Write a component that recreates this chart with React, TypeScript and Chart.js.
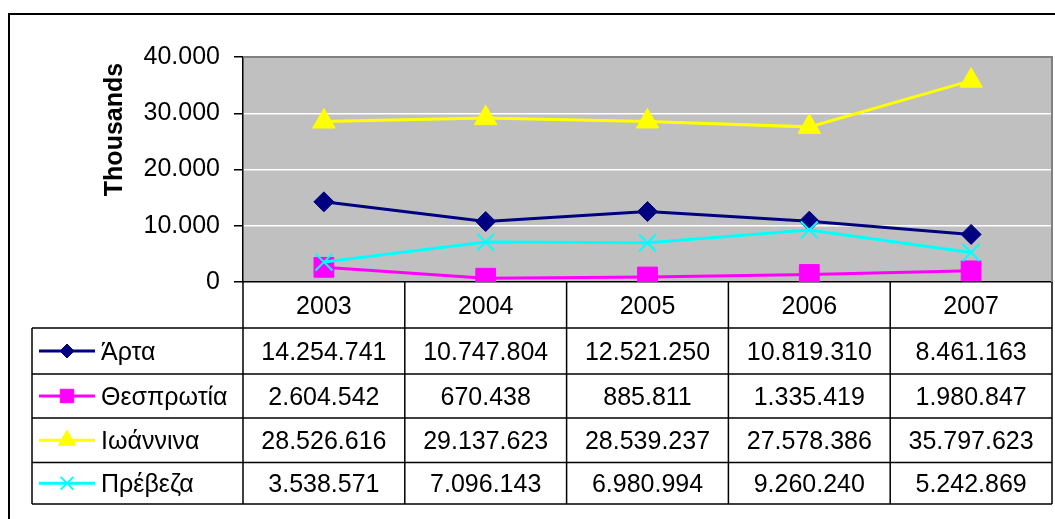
import React, { useEffect, useRef } from 'react';
import { Chart, registerables } from 'chart.js';
import { drawPoint } from 'chart.js/helpers';

Chart.register(...registerables);

// ---- data ----
const years = ['2003', '2004', '2005', '2006', '2007'];
const seriesNames = ['Άρτα', 'Θεσπρωτία', 'Ιωάννινα', 'Πρέβεζα'];
const arta = [14254741, 10747804, 12521250, 10819310, 8461163];
const thesprotia = [2604542, 670438, 885811, 1335419, 1980847];
const ioannina = [28526616, 29137623, 28539237, 27578386, 35797623];
const preveza = [3538571, 7096143, 6980994, 9260240, 5242869];
const seriesValues = [arta, thesprotia, ioannina, preveza];
const yMin = 0;
const yMax = 40000000;
const yStep = 10000000;
const yTitle = 'Thousands';

// ---- styles ----
const FONT = '"Liberation Sans", Arial, Helvetica, sans-serif';
const seriesStyles = [
  { color: '#000080', pointStyle: 'rectRot', radius: 10, legendRadius: 7, pbw: 1 },
  { color: '#FF00FF', pointStyle: 'rect', radius: 14, legendRadius: 9.5, pbw: 1 },
  { color: '#FFFF00', pointStyle: 'triangle', radius: 13, legendRadius: 10, pbw: 1 },
  { color: '#00FFFF', pointStyle: 'crossRot', radius: 12, legendRadius: 9, pbw: 2 },
];

const fmt = (n: number) => String(Math.round(n)).replace(/\B(?=(\d{3})+(?!\d))/g, '.');

const excelPlugin = {
  id: 'excelLook',
  beforeDraw(chart: any) {
    const { ctx, chartArea: a } = chart;
    ctx.save();
    ctx.fillStyle = '#ffffff';
    ctx.fillRect(0, 0, chart.width, chart.height);
    ctx.fillStyle = '#C0C0C0';
    ctx.fillRect(a.left, a.top, a.right - a.left, a.bottom - a.top);
    ctx.restore();
  },
  beforeDatasetsDraw(chart: any) {
    const { ctx, chartArea: a } = chart;
    ctx.save();
    ctx.strokeStyle = '#808080';
    ctx.lineWidth = 2;
    ctx.beginPath();
    ctx.moveTo(a.left, a.top);
    ctx.lineTo(a.right, a.top);
    ctx.lineTo(a.right, a.bottom);
    ctx.stroke();
    ctx.restore();
  },
  afterDraw(chart: any) {
    const { ctx, chartArea: a } = chart;
    const xs = chart.scales.x;
    ctx.save();
    // outer frame
    ctx.strokeStyle = '#000';
    ctx.lineWidth = 2;
    ctx.beginPath();
    ctx.moveTo(9, chart.height);
    ctx.lineTo(9, 14);
    ctx.lineTo(chart.width, 14);
    ctx.stroke();

    // axis title
    ctx.save();
    ctx.translate(115, 129.5);
    ctx.rotate(-Math.PI / 2);
    ctx.fillStyle = '#000';
    ctx.font = `bold 25px ${FONT}`;
    ctx.textAlign = 'center';
    ctx.textBaseline = 'middle';
    ctx.fillText(yTitle, 0, 0);
    ctx.restore();

    // data table
    const rowOff = [0, 46, 92, 136, 180.5, 222];
    const rows = rowOff.map((o) => a.bottom + o);
    const legLeft = 32;
    const colEdges: number[] = [a.left];
    for (let i = 0; i < years.length - 1; i++) {
      colEdges.push((xs.getPixelForTick(i) + xs.getPixelForTick(i + 1)) / 2);
    }
    colEdges.push(a.right);

    ctx.strokeStyle = '#000';
    ctx.lineWidth = 1.5;
    ctx.beginPath();
    for (let r = 1; r < rows.length; r++) {
      ctx.moveTo(legLeft, rows[r]);
      ctx.lineTo(a.right, rows[r]);
    }
    colEdges.forEach((x) => {
      ctx.moveTo(x, rows[0]);
      ctx.lineTo(x, rows[rows.length - 1]);
    });
    ctx.moveTo(legLeft, rows[1]);
    ctx.lineTo(legLeft, rows[rows.length - 1]);
    ctx.stroke();

    ctx.fillStyle = '#000';
    ctx.font = `25px ${FONT}`;
    ctx.textBaseline = 'alphabetic';
    const capOff = 9;
    ctx.textAlign = 'center';
    years.forEach((y, i) => {
      const cx = xs.getPixelForTick(i);
      ctx.fillText(y, cx, (rows[0] + rows[1]) / 2 + capOff);
    });
    seriesNames.forEach((name, s) => {
      const cy = (rows[s + 1] + rows[s + 2]) / 2;
      const st = seriesStyles[s];
      ctx.strokeStyle = st.color;
      ctx.lineWidth = 3;
      ctx.beginPath();
      ctx.moveTo(39, cy);
      ctx.lineTo(95, cy);
      ctx.stroke();
      ctx.fillStyle = st.color;
      ctx.strokeStyle = st.color;
      ctx.lineWidth = st.pbw;
      drawPoint(ctx, { pointStyle: st.pointStyle, radius: st.legendRadius, rotation: 0, borderWidth: st.pbw } as any, 67, cy);
      ctx.fillStyle = '#000';
      ctx.textAlign = 'left';
      ctx.fillText(name, 101, cy + capOff);
      ctx.textAlign = 'center';
      seriesValues[s].forEach((v, i) => {
        ctx.fillText(fmt(v), xs.getPixelForTick(i), cy + capOff);
      });
    });
    ctx.restore();
  },
};

export default function App() {
  const canvasRef = useRef<HTMLCanvasElement | null>(null);

  useEffect(() => {
    const canvas = canvasRef.current;
    if (!canvas) return;
    const chart = new Chart(canvas, {
      type: 'line',
      data: {
        labels: years,
        datasets: seriesNames.map((name, s) => ({
          label: name,
          data: seriesValues[s],
          borderColor: seriesStyles[s].color,
          backgroundColor: seriesStyles[s].color,
          pointBackgroundColor: seriesStyles[s].color,
          pointBorderColor: seriesStyles[s].color,
          pointStyle: seriesStyles[s].pointStyle as any,
          pointRadius: seriesStyles[s].radius,
          pointHoverRadius: seriesStyles[s].radius,
          pointBorderWidth: seriesStyles[s].pbw,
          borderWidth: 3,
          tension: 0,
          fill: false,
          order: seriesNames.length - s,
        })),
      },
      options: {
        animation: false,
        responsive: false,
        maintainAspectRatio: false,
        devicePixelRatio: 1,
        events: [],
        layout: { autoPadding: false, padding: { left: 0, top: 57, right: 3, bottom: 237 } },
        plugins: {
          legend: { display: false },
          tooltip: { enabled: false },
          title: { display: false },
        },
        scales: {
          x: {
            type: 'category',
            offset: true,
            grid: { display: false },
            ticks: { display: false },
            border: { display: true, color: '#000', width: 1.5 },
            afterFit: (s: any) => {
              s.height = 0;
              s.paddingLeft = 0;
              s.paddingRight = 0;
              s.paddingTop = 0;
              s.paddingBottom = 0;
            },
          },
          y: {
            min: yMin,
            max: yMax,
            grid: {
              color: (c: any) =>
                c.tick && (c.tick.value === yMin || c.tick.value === yMax) ? 'rgba(0,0,0,0)' : '#ffffff',
              lineWidth: 1.5,
              tickColor: '#000',
              tickLength: 9,
              tickWidth: 1.5,
            },
            border: { display: true, color: '#000', width: 1.5 },
            ticks: {
              stepSize: yStep,
              autoSkip: false,
              padding: 14,
              color: '#000',
              font: { family: FONT, size: 25 },
              callback: (v: any) => fmt(Number(v) / 1000),
            },
            afterFit: (s: any) => {
              s.width = 243;
              s.paddingLeft = 0;
              s.paddingRight = 0;
            },
          },
        },
      },
      plugins: [excelPlugin],
    });
    return () => chart.destroy();
  }, []);

  return (
    <div style={{ position: 'fixed', left: 0, top: 0, width: 1055, height: 519, background: '#fff' }}>
      <canvas ref={canvasRef} width={1055} height={519} style={{ display: 'block', width: 1055, height: 519 }} />
    </div>
  );
}
